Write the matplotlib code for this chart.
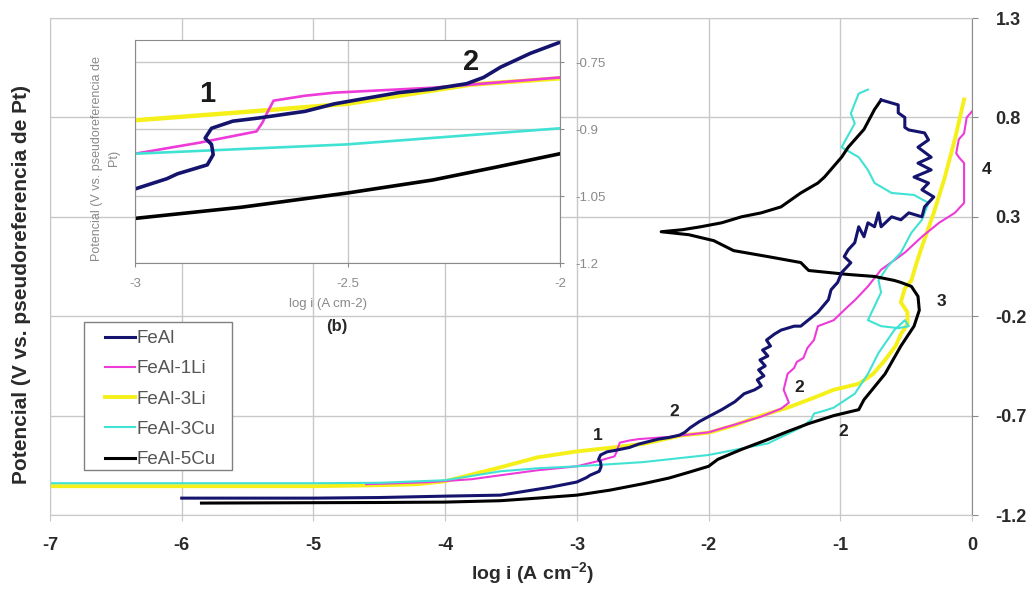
import matplotlib
matplotlib.use("Agg")
import matplotlib.pyplot as plt
from matplotlib.patches import Rectangle

plt.rcParams['font.family'] = ['Liberation Sans', 'DejaVu Sans']
plt.rcParams['axes.unicode_minus'] = False
plt.rcParams['mathtext.fontset'] = 'custom'
plt.rcParams['mathtext.rm'] = 'Liberation Sans:bold'
plt.rcParams['mathtext.default'] = 'regular'

# ---------------- data (log i, potential) ----------------
feal = [(-6.0, -1.115), (-5.5, -1.115), (-5.0, -1.115), (-4.5, -1.112), (-4.0, -1.105),
        (-3.58, -1.10), (-3.2, -1.06), (-3.0, -1.034), (-2.925, -1.011), (-2.9, -1.0),
        (-2.83, -0.98), (-2.816, -0.957), (-2.82, -0.934), (-2.835, -0.92), (-2.82, -0.898),
        (-2.77, -0.882), (-2.71, -0.875), (-2.6, -0.86), (-2.53, -0.843), (-2.38, -0.818),
        (-2.3, -0.81), (-2.22, -0.798), (-2.18, -0.784), (-2.14, -0.761), (-2.07, -0.73),
        (-2.0, -0.705), (-1.9, -0.67), (-1.8, -0.63), (-1.73, -0.59), (-1.65, -0.57),
        (-1.6, -0.55), (-1.63, -0.52), (-1.58, -0.50), (-1.62, -0.47), (-1.57, -0.45),
        (-1.61, -0.42), (-1.55, -0.40), (-1.59, -0.37), (-1.53, -0.35), (-1.56, -0.32),
        (-1.5, -0.29), (-1.45, -0.27), (-1.35, -0.25),
        (-1.30, -0.25), (-1.17, -0.18), (-1.09, -0.117), (-1.07, -0.067), (-1.02, -0.03),
        (-0.99, 0.019), (-0.92, 0.069), (-0.97, 0.10), (-0.94, 0.134), (-0.89, 0.17),
        (-0.86, 0.25), (-0.82, 0.20), (-0.79, 0.27), (-0.74, 0.25), (-0.71, 0.32),
        (-0.69, 0.25), (-0.61, 0.30), (-0.54, 0.285), (-0.48, 0.32), (-0.38, 0.30),
        (-0.36, 0.35), (-0.29, 0.40), (-0.38, 0.436), (-0.33, 0.47), (-0.44, 0.50),
        (-0.31, 0.536), (-0.41, 0.57), (-0.31, 0.60), (-0.41, 0.65), (-0.33, 0.687),
        (-0.36, 0.722), (-0.48, 0.737), (-0.51, 0.75), (-0.51, 0.80), (-0.56, 0.823),
        (-0.56, 0.863), (-0.69, 0.888)]

feal_1li = [(-4.6, -1.045), (-4.13, -1.035), (-3.8, -1.02), (-3.58, -1.0), (-3.3, -0.975),
            (-3.0, -0.955), (-2.847, -0.93), (-2.714, -0.905), (-2.70, -0.885), (-2.69, -0.865),
            (-2.674, -0.836), (-2.6, -0.825), (-2.53, -0.818), (-2.3, -0.807), (-2.0, -0.784),
            (-1.8, -0.745), (-1.6, -0.705), (-1.45, -0.665), (-1.39, -0.635), (-1.43, -0.57),
            (-1.40, -0.49), (-1.35, -0.46), (-1.33, -0.43), (-1.28, -0.41), (-1.25, -0.36),
            (-1.2, -0.32), (-1.17, -0.25), (-1.05, -0.22), (-0.94, -0.15), (-0.89, -0.12),
            (-0.79, -0.05), (-0.69, 0.034), (-0.51, 0.12), (-0.38, 0.20), (-0.25, 0.27),
            (-0.13, 0.32), (-0.06, 0.37), (-0.06, 0.57), (-0.10, 0.60), (-0.12, 0.62),
            (-0.10, 0.69), (-0.06, 0.72), (-0.04, 0.80), (0.0, 0.83)]

feal_3li = [(-7.0, -1.055), (-6.0, -1.055), (-5.0, -1.055), (-4.5, -1.05), (-4.21, -1.045),
            (-4.0, -1.03), (-3.58, -0.96), (-3.3, -0.91), (-3.0, -0.88), (-2.75, -0.862),
            (-2.5, -0.843), (-2.21, -0.80), (-2.0, -0.786), (-1.81, -0.75), (-1.6, -0.70),
            (-1.4, -0.66), (-1.2, -0.61), (-1.05, -0.57), (-0.86, -0.54), (-0.75, -0.49),
            (-0.66, -0.42), (-0.58, -0.35), (-0.54, -0.29), (-0.49, -0.24), (-0.49, -0.18),
            (-0.54, -0.13), (-0.51, -0.06), (-0.46, -0.02), (-0.42, 0.07), (-0.38, 0.15),
            (-0.29, 0.32), (-0.21, 0.49), (-0.13, 0.69), (-0.06, 0.89)]

feal_3cu = [(-7.0, -1.04), (-6.0, -1.04), (-5.0, -1.04), (-4.5, -1.038), (-4.0, -1.025),
            (-3.58, -0.98), (-3.3, -0.965), (-3.0, -0.955), (-2.5, -0.934), (-2.0, -0.898),
            (-1.55, -0.84), (-1.3, -0.76), (-1.22, -0.72), (-1.2, -0.69), (-1.12, -0.675),
            (-1.05, -0.66), (-0.89, -0.59), (-0.79, -0.49), (-0.71, -0.385), (-0.59, -0.27),
            (-0.51, -0.22), (-0.48, -0.25), (-0.56, -0.26), (-0.69, -0.25), (-0.79, -0.22),
            (-0.74, -0.15), (-0.69, -0.08), (-0.71, -0.02), (-0.64, 0.05), (-0.54, 0.12),
            (-0.46, 0.22), (-0.38, 0.285), (-0.33, 0.37), (-0.44, 0.41), (-0.61, 0.42),
            (-0.74, 0.47), (-0.79, 0.536), (-0.86, 0.60), (-0.99, 0.65), (-0.89, 0.77),
            (-0.92, 0.82), (-0.86, 0.92), (-0.79, 0.94)]

feal_5cu = [(-5.85, -1.14), (-5.0, -1.138), (-4.5, -1.137), (-4.0, -1.135), (-3.58, -1.128),
            (-3.3, -1.115), (-3.0, -1.10), (-2.75, -1.075), (-2.5, -1.043), (-2.3, -1.014),
            (-2.15, -0.985), (-2.0, -0.955), (-1.93, -0.92), (-1.75, -0.87), (-1.55, -0.82),
            (-1.4, -0.78), (-1.24, -0.74), (-1.05, -0.70), (-0.86, -0.67), (-0.82, -0.62),
            (-0.66, -0.49), (-0.54, -0.35), (-0.44, -0.25), (-0.40, -0.17), (-0.41, -0.10),
            (-0.46, -0.05), (-0.54, -0.03), (-0.59, -0.02), (-0.74, 0.0), (-0.94, 0.01),
            (-1.24, 0.03), (-1.30, 0.07), (-1.55, 0.10), (-1.81, 0.13), (-1.96, 0.18),
            (-2.15, 0.21), (-2.36, 0.225), (-2.2, 0.235), (-2.06, 0.25), (-1.9, 0.27),
            (-1.75, 0.30), (-1.60, 0.32), (-1.45, 0.35), (-1.30, 0.42), (-1.17, 0.47),
            (-1.12, 0.50), (-0.99, 0.60), (-0.94, 0.65), (-0.82, 0.74), (-0.74, 0.84),
            (-0.69, 0.888)]

series_names = ['FeAl', 'FeAl-1Li', 'FeAl-3Li', 'FeAl-3Cu', 'FeAl-5Cu']
series_data = [feal, feal_1li, feal_3li, feal_3cu, feal_5cu]
series_colors = ['#14146e', '#ee3ad8', '#f5ef1a', '#40e2d4', '#000000']
series_lw = [2.2, 1.5, 2.8, 1.5, 2.2]
draw_order = [2, 1, 3, 4, 0]

x_ticks = [-7, -6, -5, -4, -3, -2, -1, 0]
y_ticks = [-1.2, -0.7, -0.2, 0.3, 0.8, 1.3]
inset_x_ticks = [-3, -2.5, -2]
inset_y_ticks = [-1.2, -1.05, -0.9, -0.75]

main_notes = [('1', -2.84, -0.80), ('2', -2.26, -0.68), ('2', -1.31, -0.56),
              ('2', -0.98, -0.78), ('3', -0.23, -0.127), ('4', 0.11, 0.536)]
inset_notes = [('1', -2.83, -0.82), ('2', -2.21, -0.75)]

# ---------------- figure ----------------
fig = plt.figure(figsize=(10.32, 5.89), dpi=100)
ax = fig.add_axes([0.04845, 0.1256, 0.8934, 0.8438])
grid_c = '#c8c8c8'
ax.set_xlim(-7, 0)
ax.set_ylim(-1.2, 1.3)
ax.set_xticks(x_ticks)
ax.set_xticklabels([str(v) for v in x_ticks])
ax.set_yticks(y_ticks)
ax.set_yticklabels(['%.1f' % v for v in y_ticks])
ax.yaxis.tick_right()
ax.grid(True, color=grid_c, lw=1.0)
ax.set_axisbelow(True)
for s in ['left', 'top', 'bottom']:
    ax.spines[s].set_color(grid_c)
ax.spines['right'].set_color('#8a8a8a')
ax.tick_params(axis='x', colors=grid_c, length=4, pad=12, labelsize=13, labelcolor='#2a2a2a')
ax.tick_params(axis='y', colors='#8a8a8a', length=4, pad=13, labelsize=13, labelcolor='#2a2a2a')
for lab in ax.get_xticklabels() + ax.get_yticklabels():
    lab.set_fontweight('bold')

lines = {}
for i in draw_order:
    xs = [p[0] for p in series_data[i]]
    ys = [p[1] for p in series_data[i]]
    ln, = ax.plot(xs, ys, color=series_colors[i], lw=series_lw[i], label=series_names[i],
                  solid_joinstyle='round')
    lines[i] = ln

for t, x, y in main_notes:
    ax.text(x, y, t, fontsize=12.5, fontweight='bold', color='#222222', ha='center', va='center',
            clip_on=False)

# legend: separate frame so that padding matches the reference
ax.add_patch(Rectangle((0.0369, 0.0905), 0.1605, 0.2978, transform=ax.transAxes,
                       facecolor='white', edgecolor='#808080', lw=1.0, zorder=4))
leg = ax.legend([lines[i] for i in range(5)], series_names, loc='upper left',
                bbox_to_anchor=(0.0597, 0.3722), borderaxespad=0, borderpad=0, fontsize=13.5,
                handlelength=1.6, handletextpad=0.1, labelspacing=0.7, frameon=False)
leg.set_zorder(5)
for txt in leg.get_texts():
    txt.set_color('#555555')

fig.text(533 / 1032, 1 - 573 / 589, 'log i (A cm$^{-2}$)', fontsize=14, fontweight='bold',
         color='#2a2a2a', ha='center', va='center')
fig.text(22 / 1032, 1 - 285 / 589, 'Potencial (V vs. pseudoreferencia de Pt)', fontsize=15,
         fontweight='bold', color='#2a2a2a', ha='center', va='center', rotation=90)

# ---------------- inset ----------------
axi = fig.add_axes([135 / 1032, 1 - 263 / 589, 425 / 1032, 223 / 589])
axi.set_facecolor('white')
axi.set_xlim(-3, -2)
axi.set_ylim(-1.2, -0.7)
axi.set_xticks(inset_x_ticks)
axi.set_xticklabels(['-3', '-2.5', '-2'])
axi.set_yticks(inset_y_ticks)
axi.set_yticklabels(['-1.2', '-1.05', '-0.9', '-0.75'])
axi.yaxis.tick_right()
axi.grid(True, color='#c8c8c8', lw=1.0)
axi.set_axisbelow(True)
for s in axi.spines.values():
    s.set_color('#8a8a8a')
axi.tick_params(axis='both', colors='#8a8a8a', length=3, labelsize=9.5, labelcolor='#8a8a8a', pad=8)
for i in draw_order:
    xs = [p[0] for p in series_data[i]]
    ys = [p[1] for p in series_data[i]]
    axi.plot(xs, ys, color=series_colors[i], lw=series_lw[i] + 0.4, solid_joinstyle='round')
for t, x, y in inset_notes:
    axi.text(x, y, t, fontsize=21, fontweight='bold', color='#1a1a1a', ha='center', va='center')
axi.set_xlabel('log i (A cm-2)', fontsize=9.5, color='#8a8a8a', labelpad=2)
axi.xaxis.set_label_coords(0.454, -0.155)
axi.set_ylabel('Potencial (V vs. pseudoreferencia de\nPt)', fontsize=9, color='#8a8a8a',
               linespacing=1.5)
axi.yaxis.set_label_coords(-0.036, 0.47)
fig.text(337 / 1032, 1 - 327 / 589, '(b)', fontsize=12, fontweight='bold', color='#2a2a2a',
         ha='center', va='center')

fig.savefig('out.png', dpi=100)
